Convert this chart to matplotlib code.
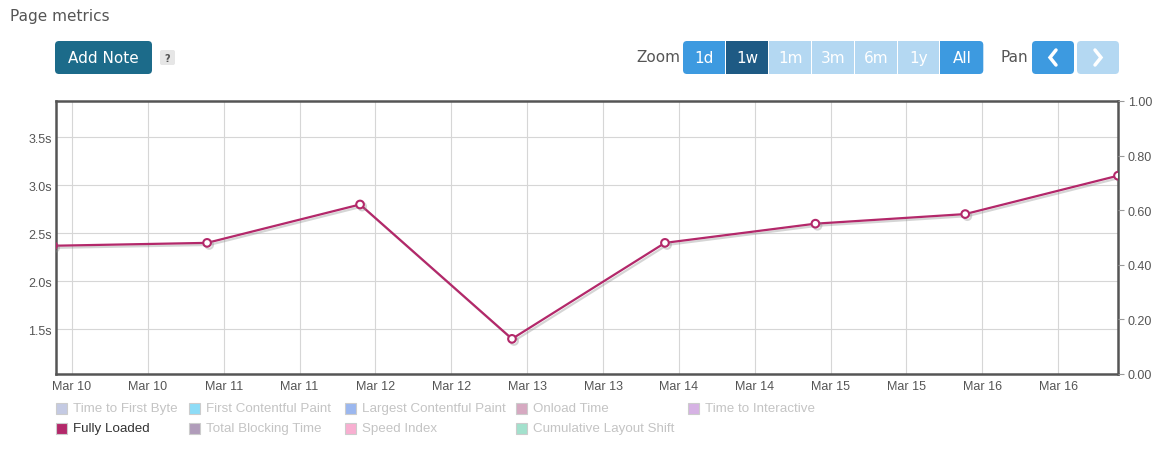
import numpy as np
import pandas as pd
import matplotlib
matplotlib.use('Agg')
import matplotlib.pyplot as plt
import matplotlib.dates as mdates
import matplotlib.patheffects as pe
from matplotlib.patches import Rectangle, FancyBboxPatch

# data: Fully Loaded (seconds)
times = pd.to_datetime(['2024-03-09 21:00', '2024-03-10 21:22', '2024-03-11 21:34',
                        '2024-03-12 21:36', '2024-03-13 21:48', '2024-03-14 21:36',
                        '2024-03-15 21:18', '2024-03-16 21:28'])
fully_loaded = [2.37, 2.40, 2.80, 1.40, 2.40, 2.60, 2.70, 3.10]

legend_names = ['Time to First Byte', 'First Contentful Paint', 'Largest Contentful Paint',
                'Onload Time', 'Time to Interactive', 'Fully Loaded', 'Total Blocking Time',
                'Speed Index', 'Cumulative Layout Shift']
legend_colors = ['#c4cae3', '#8ddcf7', '#9bb7ef', '#d6a9c1', '#d6b2e4', '#b3286a',
                 '#b09cba', '#f8afd1', '#a3e1cd']
legend_active = [False, False, False, False, False, True, False, False, False]

zoom_labels = ['1d', '1w', '1m', '3m', '6m', '1y', 'All']
zoom_colors = ['#3d9ae0', '#1e5a84', '#b4d8f2', '#b4d8f2', '#b4d8f2', '#b4d8f2', '#3d9ae0']

W, H = 1166, 452
LINE = '#b3286a'
TXT = '#555555'

fig = plt.figure(figsize=(W / 100, H / 100), dpi=100)
fig.patch.set_facecolor('white')

# main chart area (pixel box 56..1118 x 102..375)
ax = fig.add_axes([56 / W, (H - 375) / H, 1062 / W, 273 / H])
ax.plot(times, fully_loaded, color=LINE, lw=1.6, marker='o', ms=5.5,
        mfc='white', mec=LINE, mew=1.5, zorder=5, clip_on=True,
        path_effects=[pe.SimpleLineShadow(offset=(1.5, -1.5), shadow_color='#888888', alpha=0.35),
                      pe.Normal()])
xmax = pd.Timestamp('2024-03-16 21:28')
ax.set_xlim(xmax - pd.Timedelta(days=7), xmax)
ax.set_ylim(1.034, 3.878)
ax.set_yticks([1.5, 2.0, 2.5, 3.0, 3.5])
ax.set_yticklabels(['1.5s', '2.0s', '2.5s', '3.0s', '3.5s'])
ax.xaxis.set_major_locator(mdates.HourLocator(byhour=[0, 12]))
ax.xaxis.set_major_formatter(mdates.DateFormatter('%b %d'))
ax.grid(True, color='#d6d6d6', lw=0.8)
ax.set_axisbelow(True)
ax.tick_params(axis='y', length=0, labelsize=9, labelcolor=TXT, pad=3)
ax.tick_params(axis='x', length=0, labelsize=9, labelcolor=TXT, pad=4)
for lab in ax.get_xticklabels() + ax.get_yticklabels():
    lab.set_fontfamily('Liberation Sans')
for s in ax.spines.values():
    s.set_color('#555555')
    s.set_linewidth(1.8)

ax2 = ax.twinx()
ax2.set_ylim(0, 1)
ax2.set_yticks([0, 0.2, 0.4, 0.6, 0.8, 1.0])
ax2.set_yticklabels(['0.00', '0.20', '0.40', '0.60', '0.80', '1.00'])
ax2.tick_params(axis='y', length=4, color='#999999', labelsize=9, labelcolor=TXT, pad=3)
for lab in ax2.get_yticklabels():
    lab.set_fontfamily('Liberation Sans')
for s in ax2.spines.values():
    s.set_visible(False)

# overlay for header, buttons and legend (pixel coordinates)
ov = fig.add_axes([0, 0, 1, 1], zorder=-1)
ov.set_xlim(0, W)
ov.set_ylim(H, 0)
ov.axis('off')

ov.text(10, 17, 'Page metrics', fontsize=11, color=TXT, va='center', ha='left')

ov.add_patch(FancyBboxPatch((55, 42), 97, 33, boxstyle='round,pad=0,rounding_size=4',
                            fc='#1c6b8a', ec='none'))
ov.text(103.5, 58.5, 'Add Note', fontsize=11, color='white', ha='center', va='center')
ov.add_patch(FancyBboxPatch((160, 51), 15, 15, boxstyle='round,pad=0,rounding_size=2',
                            fc='#e6e6e6', ec='none'))
ov.text(167.5, 58.5, '?', fontsize=7, color='#555555', ha='center', va='center', fontweight='bold')

# zoom buttons
ov.text(680, 58, 'Zoom', fontsize=11, color=TXT, ha='right', va='center')
bx0, bw = 683, 42.9
for i, (lab, col) in enumerate(zip(zoom_labels, zoom_colors)):
    x0 = bx0 + i * bw
    if i == 0:
        ov.add_patch(FancyBboxPatch((x0, 42), bw - 1, 33, boxstyle='round,pad=0,rounding_size=4',
                                    fc=col, ec='none'))
        ov.add_patch(Rectangle((x0 + 20, 42), bw - 21, 33, fc=col, ec='none'))
    elif i == len(zoom_labels) - 1:
        ov.add_patch(FancyBboxPatch((x0, 42), bw, 33, boxstyle='round,pad=0,rounding_size=4',
                                    fc=col, ec='none'))
        ov.add_patch(Rectangle((x0, 42), 20, 33, fc=col, ec='none'))
    else:
        ov.add_patch(Rectangle((x0, 42), bw - 1, 33, fc=col, ec='none'))
    ov.text(x0 + bw / 2, 58.5, lab, fontsize=11, color='white', ha='center', va='center')

ov.text(1000, 58, 'Pan', fontsize=11, color=TXT, ha='left', va='center')
for x0, col, d in [(1032, '#3d9ae0', -1), (1077, '#b4d8f2', 1)]:
    ov.add_patch(FancyBboxPatch((x0, 42), 42, 33, boxstyle='round,pad=0,rounding_size=4',
                                fc=col, ec='none'))
    cx = x0 + 21
    ov.plot([cx - 3 * d, cx + 3 * d, cx - 3 * d], [51, 58.5, 66], color='white', lw=2.5,
            solid_capstyle='round', solid_joinstyle='miter')

# legend
col_x = [56, 189, 345, 516, 688]
for i, (name, col, act) in enumerate(zip(legend_names, legend_colors, legend_active)):
    row, c = divmod(i, 5)
    x = col_x[c]
    y = 409 + row * 20
    ov.add_patch(Rectangle((x, y - 5.5), 11, 11, fc=col, ec='#cccccc', lw=0.8))
    ov.text(x + 17, y, name, fontsize=9.6, family='Liberation Sans',
            color='#333333' if act else '#c4c4c4', ha='left', va='center')

fig.savefig('out.png', dpi=100)
